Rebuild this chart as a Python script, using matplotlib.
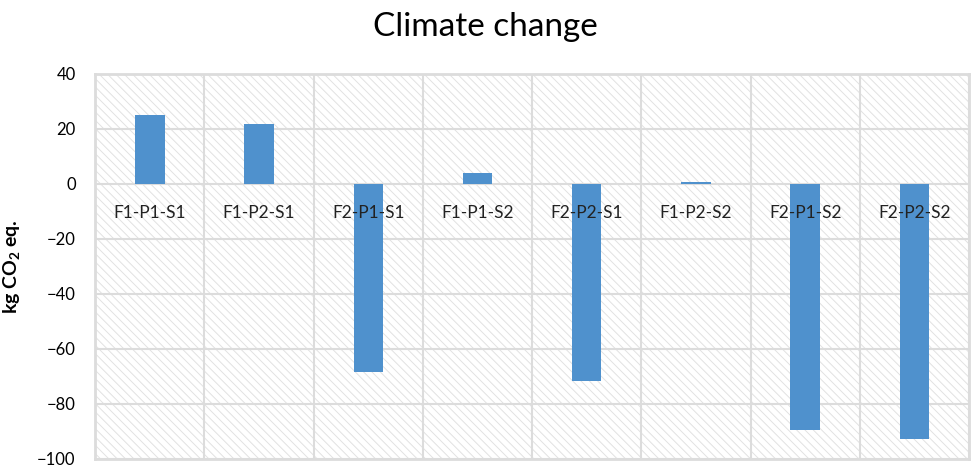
import matplotlib
matplotlib.use('Agg')
from matplotlib import pyplot as plt
from matplotlib.patches import Rectangle
import numpy as np

# scenario results, kg CO2 eq.
scenarios = ['F1-P1-S1', 'F1-P2-S1', 'F2-P1-S1', 'F1-P1-S2',
             'F2-P2-S1', 'F1-P2-S2', 'F2-P1-S2', 'F2-P2-S2']
values = [25.1, 21.8, -68.3, 4.0, -71.6, 0.7, -89.5, -92.8]
yticks = [40, 20, 0, -20, -40, -60, -80, -100]

plt.rcParams['font.family'] = ['Lato', 'DejaVu Sans']
plt.rcParams['hatch.linewidth'] = 0.7

grid_col = '#dcdcdc'
bar_col = '#4f91cd'

fig = plt.figure(figsize=(9.71, 4.71), dpi=100)
ax = fig.add_axes([0.098, 0.0255, 0.9, 0.8175])

x = np.arange(len(scenarios))
ax.set_xlim(-0.5, len(scenarios) - 0.5)
ax.set_ylim(-100, 40)

# hatched plot area background
ax.add_patch(Rectangle((0, 0), 1, 1, transform=ax.transAxes, fill=False,
                       hatch='\\\\\\\\', edgecolor='#e2e2e2', lw=0, zorder=0))

ax.bar(x, values, width=0.27, color=bar_col, zorder=3)

ax.set_yticks(yticks)
ax.tick_params(axis='y', length=0, labelsize=12, pad=14)

# category labels sit just under the zero line, on top of the bars
ax.set_xticks(np.arange(len(scenarios) + 1) - 0.5)
ax.tick_params(axis='x', length=0, labelbottom=False)
for xi, name in zip(x, scenarios):
    ax.text(xi, -10.5, name, ha='center', va='center', fontsize=12.5,
            color='#222222', zorder=5)

ax.grid(axis='y', color=grid_col, lw=1.5, zorder=1)
ax.grid(axis='x', color=grid_col, lw=1.5, zorder=1)
ax.set_axisbelow(True)

for side in ['top', 'left', 'right', 'bottom']:
    ax.spines[side].set_color(grid_col)
    ax.spines[side].set_linewidth(2)

ax.set_ylabel(r'kg CO$_\mathregular{2}$ eq.', fontsize=14, fontweight='bold', labelpad=10)
fig.suptitle('Climate change', fontsize=24, y=0.975)

plt.savefig('out.png')
